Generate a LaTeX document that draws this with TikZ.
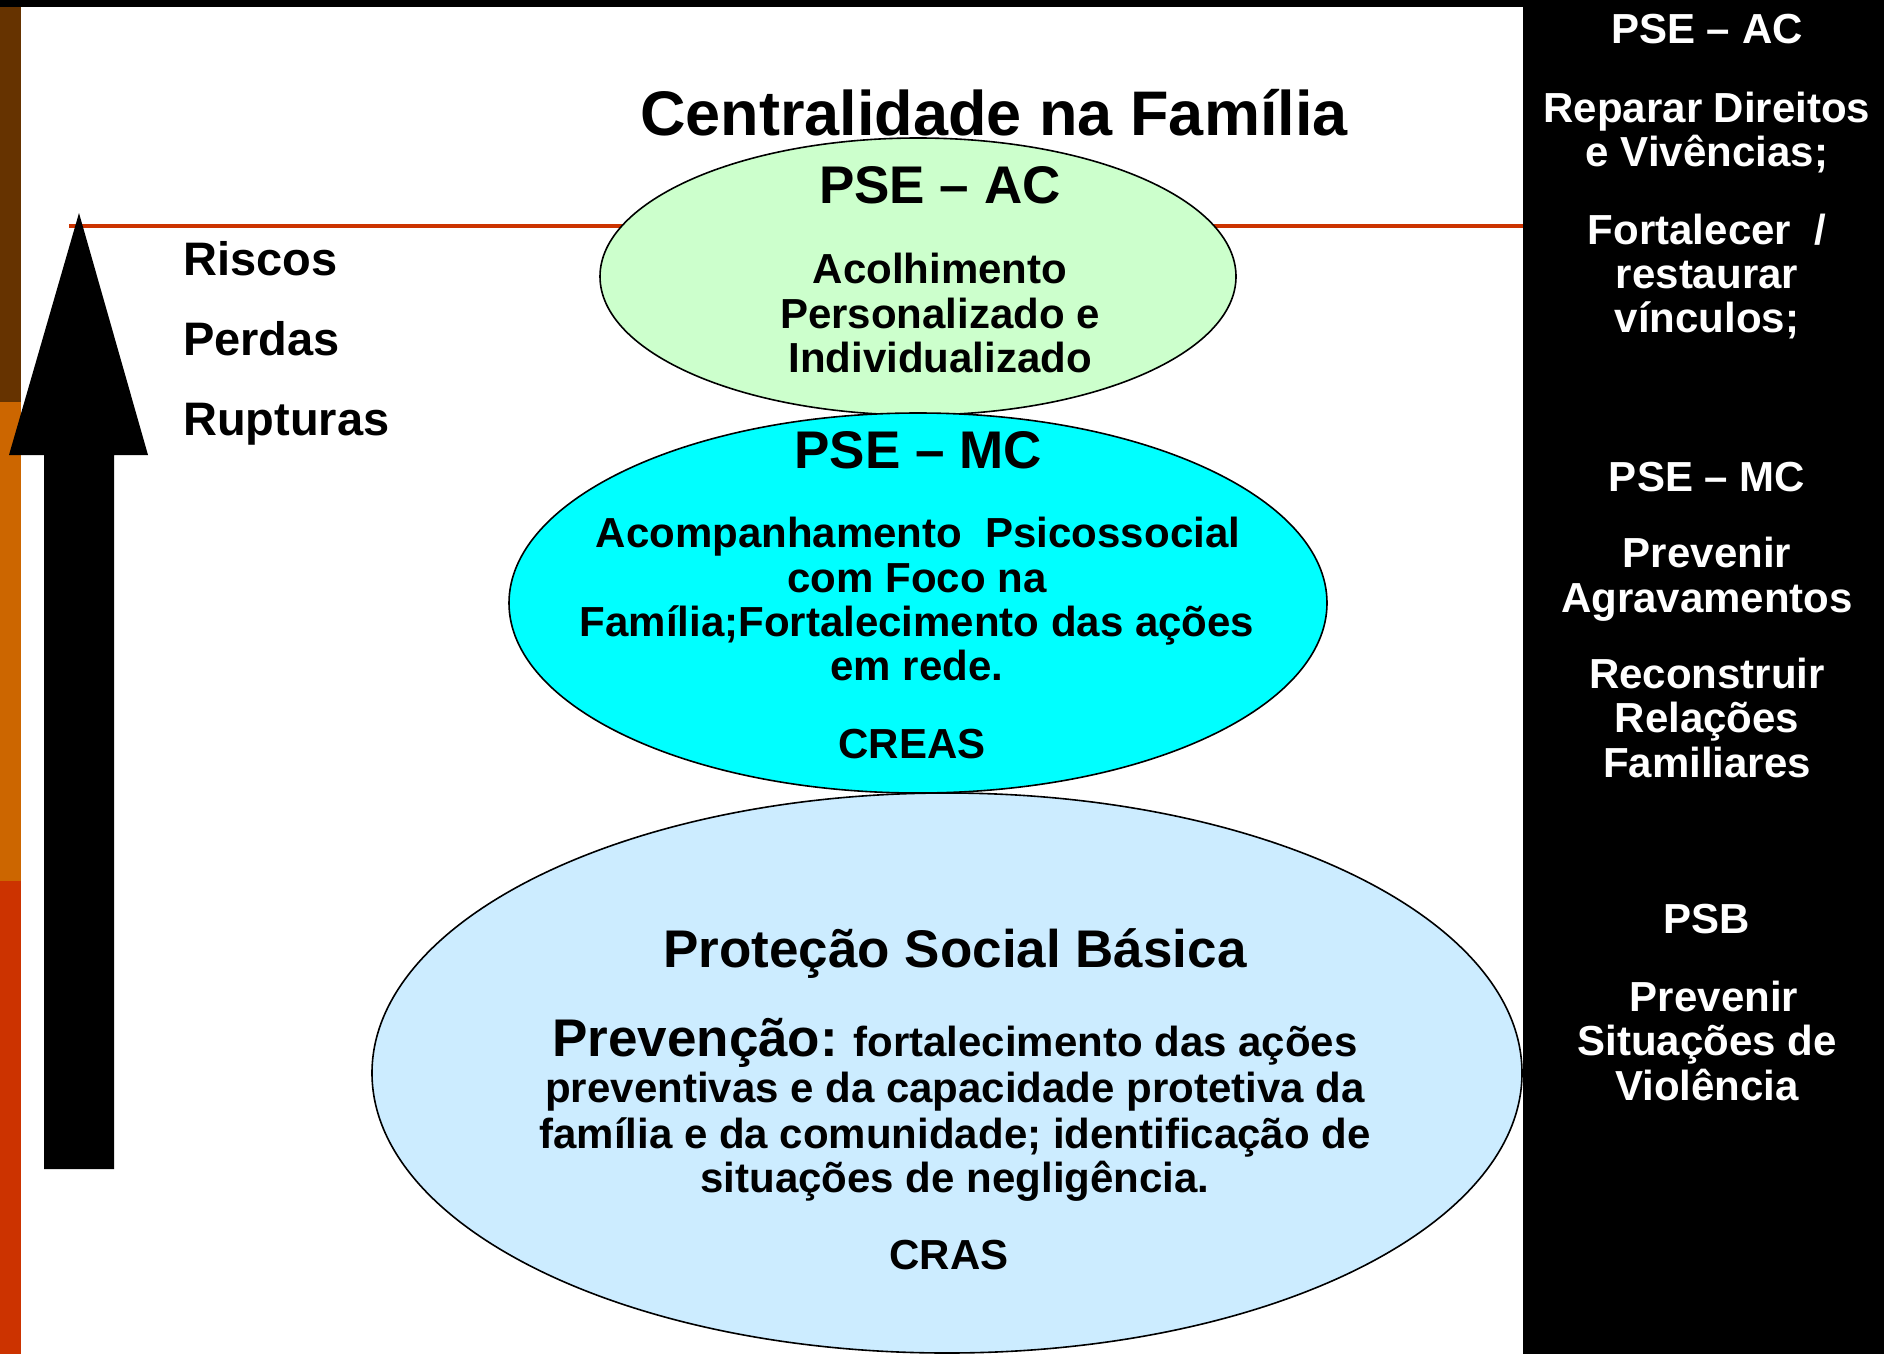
\documentclass[tikz,border=0pt]{standalone}
\usepackage{fontspec}
\setmainfont{Liberation Sans}
\usetikzlibrary{shapes.geometric}
\definecolor{barbrown}{HTML}{663300}
\definecolor{barorange}{HTML}{CC6600}
\definecolor{barred}{HTML}{CC3300}
\definecolor{acgreen}{HTML}{CCFFCC}
\definecolor{mccyan}{HTML}{00FFFF}
\definecolor{psbblue}{HTML}{CCECFF}
\tikzset{
  txt/.style={anchor=base, inner sep=0pt, font=\bfseries},
  bodytxt/.style={txt, font=\fontsize{42}{44}\selectfont\bfseries},
  headtxt/.style={txt, font=\fontsize{53}{55}\selectfont\bfseries},
  sidetxt/.style={txt, anchor=base west, font=\fontsize{47}{50}\selectfont\bfseries},
  paneltxt/.style={bodytxt, text=white},
  oval/.style={draw=black, line width=1.6pt, ellipse, inner sep=0pt}
}
\begin{document}
\begin{tikzpicture}[x=1pt, y=-1pt]
\useasboundingbox (0,0) rectangle (1884,1354);
\fill[white] (0,0) rectangle (1884,1354);
% left colour bar
\fill[barbrown] (0,0) rectangle (21,402);
\fill[barorange] (0,402) rectangle (21,881);
\fill[barred] (0,881) rectangle (21,1354);
% top band
\fill[black] (0,0) rectangle (1884,7);
% red rule
\coordinate (rl) at (69,226);
\coordinate (rr) at (1523,226);
\draw[barred, line width=4pt] (rl) -- (rr);
% big arrow
\fill[black] (79,213) -- (148,455) -- (114,455) -- (114,1169) -- (44,1169) -- (44,455) -- (9,455) -- cycle;
% ellipses
\node[oval, fill=psbblue, minimum width=1150pt, minimum height=560pt] (psb) at (947,1073) {};
\node[oval, fill=acgreen, minimum width=636pt, minimum height=277pt] (ac) at (918,276.5) {};
\node[oval, fill=mccyan, minimum width=818pt, minimum height=380pt] (mc) at (918,603) {};
% title
\node[txt, font=\fontsize{63}{66}\selectfont\bfseries] (title) at (994,135) {Centralidade na Família};
% left labels
\node[sidetxt] (riscos) at (183,275) {Riscos};
\node[sidetxt] (perdas) at (183,355) {Perdas};
\node[sidetxt] (rupt) at (183,435) {Rupturas};
% PSE-AC ellipse text
\node[headtxt] (acH) at (940,203) {PSE – AC};
\node[bodytxt] (ac1) at (940,283) {Acolhimento};
\node[bodytxt] (ac2) at (940,328) {Personalizado e};
\node[bodytxt] (ac3) at (940,372) {Individualizado};
% PSE-MC ellipse text
\node[headtxt] (mcH) at (918,468) {PSE – MC};
\node[bodytxt] (mc1) at (918,547) {Acompanhamento\ \ Psicossocial};
\node[bodytxt] (mc2) at (917,592) {com Foco na};
\node[bodytxt] (mc3) at (917,636) {Família;Fortalecimento das ações};
\node[bodytxt] (mc4) at (917,680) {em rede.};
\node[bodytxt] (mc5) at (912,758) {CREAS};
% PSB ellipse text
\node[headtxt] (psbH) at (955,967) {Proteção Social Básica};
\node[bodytxt] (psb1) at (955,1056) {{\fontsize{53}{55}\selectfont Prevenção:} fortalecimento das ações};
\node[bodytxt] (psb2) at (955,1102) {preventivas e da capacidade protetiva da};
\node[bodytxt] (psb3) at (955,1148) {família e da comunidade; identificação de};
\node[bodytxt] (psb4) at (955,1192) {situações de negligência.};
\node[bodytxt] (psb5) at (949,1269) {CRAS};
% right panel
\fill[black] (1523,0) rectangle (1884,1354);
\node[paneltxt] (p1) at (1707,44) {PSE – AC};
\node[paneltxt] (p2) at (1707,122) {Reparar Direitos};
\node[paneltxt] (p3) at (1707,166) {e Vivências;};
\node[paneltxt] (p4) at (1707,244) {Fortalecer\ \ /};
\node[paneltxt] (p5) at (1707,288) {restaurar};
\node[paneltxt] (p6) at (1707,332) {vínculos;};
\node[paneltxt] (p7) at (1707,491) {PSE – MC};
\node[paneltxt] (p8) at (1707,567) {Prevenir};
\node[paneltxt] (p9) at (1707,612) {Agravamentos};
\node[paneltxt] (p10) at (1707,688) {Reconstruir};
\node[paneltxt] (p11) at (1707,732) {Relações};
\node[paneltxt] (p12) at (1707,777) {Familiares};
\node[paneltxt] (p13) at (1707,933) {PSB};
\node[paneltxt] (p14) at (1714,1011) {Prevenir};
\node[paneltxt] (p15) at (1707,1055) {Situações de};
\node[paneltxt] (p16) at (1707,1100) {Violência};
\end{tikzpicture}
\end{document}
